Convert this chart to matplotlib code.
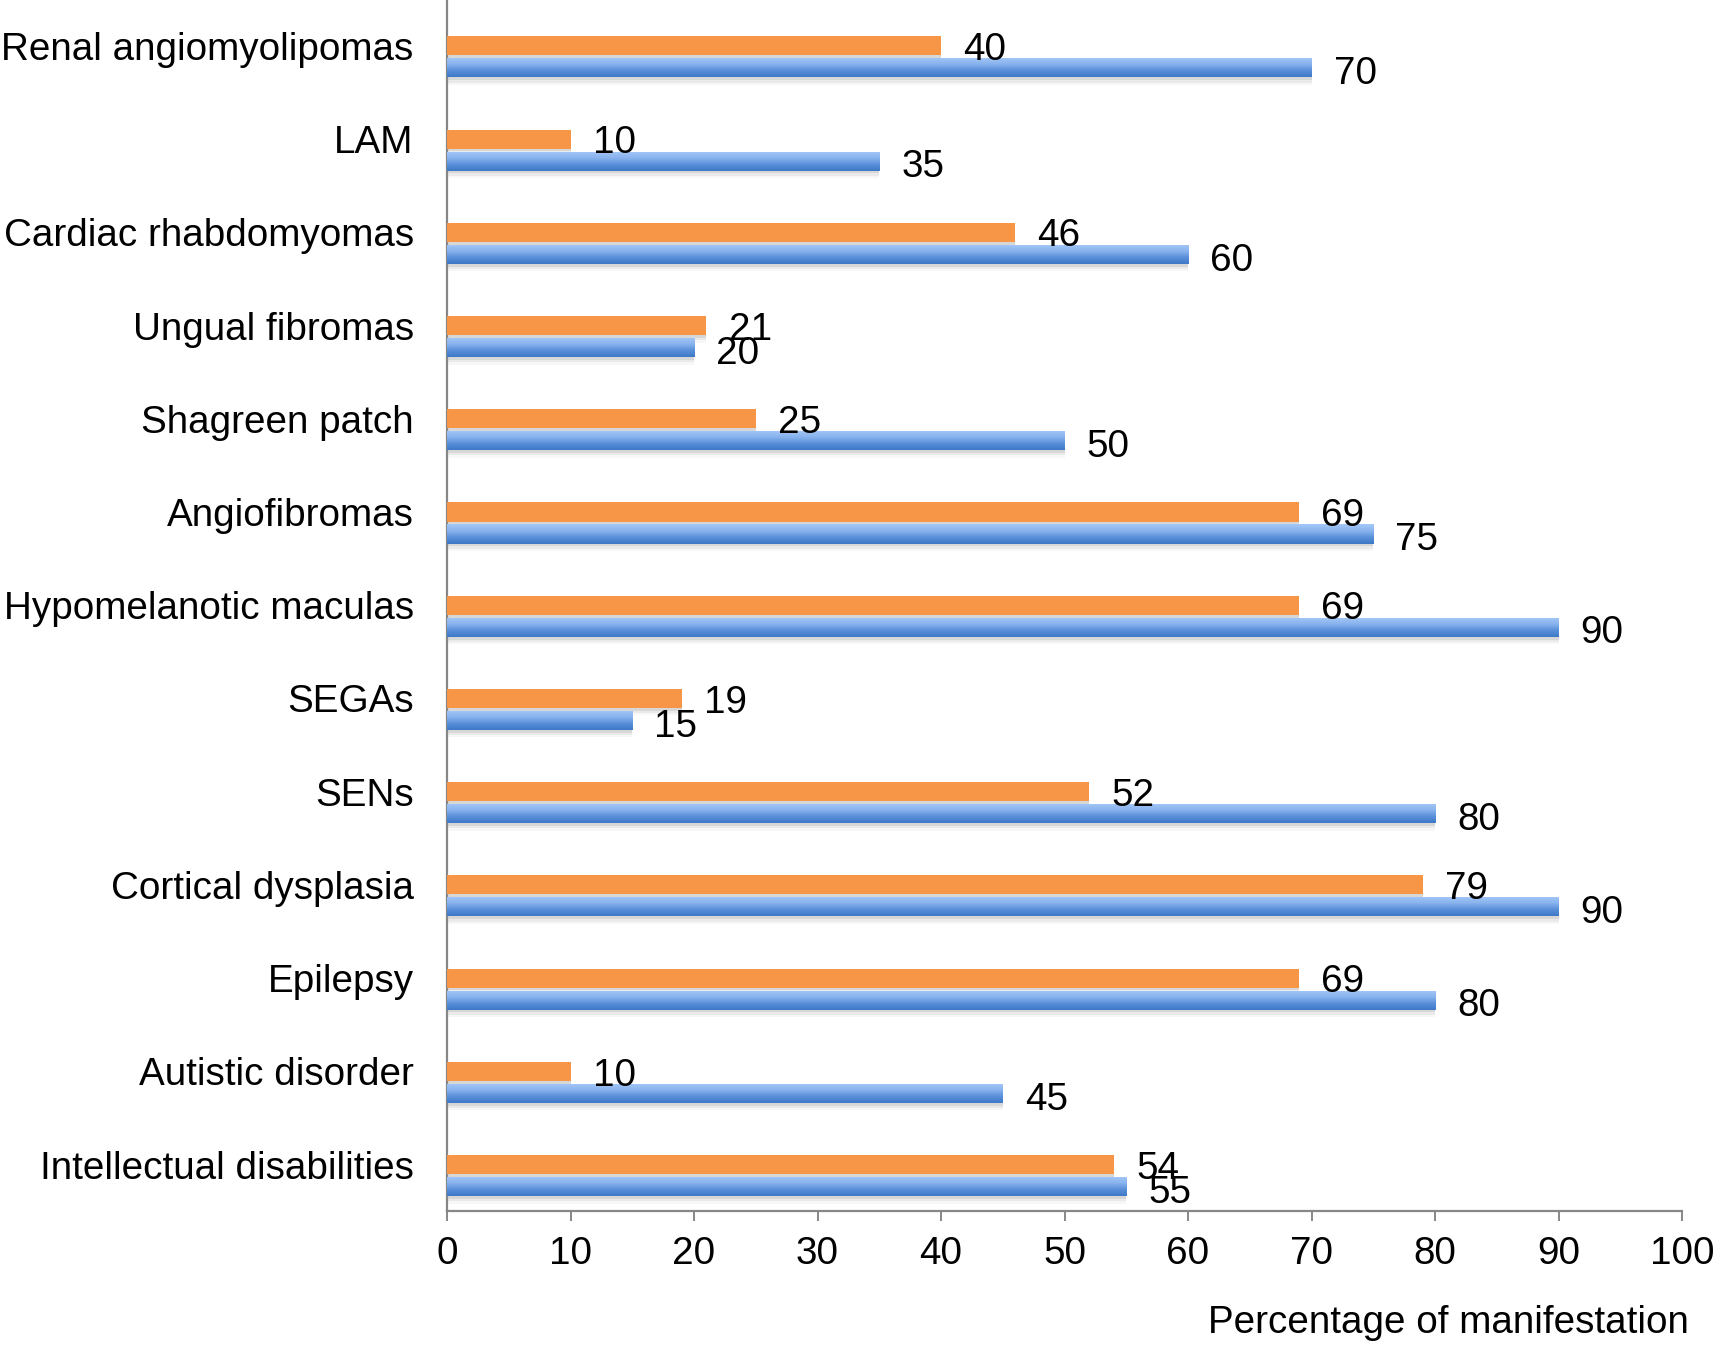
import numpy as np
import matplotlib
matplotlib.use("Agg")
import matplotlib.pyplot as plt
from matplotlib.colors import LinearSegmentedColormap

categories = ["Renal angiomyolipomas", "LAM", "Cardiac rhabdomyomas", "Ungual fibromas",
              "Shagreen patch", "Angiofibromas", "Hypomelanotic maculas", "SEGAs", "SENs",
              "Cortical dysplasia", "Epilepsy", "Autistic disorder", "Intellectual disabilities"]
series_orange = [40, 10, 46, 21, 25, 69, 69, 19, 52, 79, 69, 10, 54]
series_blue = [70, 35, 60, 20, 50, 75, 90, 15, 80, 90, 80, 45, 55]
x_ticks = [0, 10, 20, 30, 40, 50, 60, 70, 80, 90, 100]
x_label = "Percentage of manifestation"

plt.rcParams['font.family'] = ['Liberation Sans', 'DejaVu Sans']
FS = 27.8

fig = plt.figure(figsize=(17.17, 13.46), dpi=100)
ax = fig.add_axes([447/1717, 1 - 1211/1346, (1682-447)/1717, 1211/1346])

pos = np.arange(len(categories))
h = 0.205
off = 0.118
y_or = pos - off
y_bl = pos + off

orange = "#F79646"
blue_cmap = LinearSegmentedColormap.from_list("bl", ["#A4C8F8", "#8AB4EE", "#5A90DA", "#3E78C6"])

# soft shadows
for k, a in zip([0.03, 0.055, 0.08], [0.10, 0.07, 0.04]):
    ax.barh(y_or + k, series_orange, height=h, color="#404040", alpha=a, zorder=1, linewidth=0)
    ax.barh(y_bl + k, series_blue, height=h, color="#404040", alpha=a, zorder=1, linewidth=0)

ax.barh(y_or, series_orange, height=h, color=orange, zorder=3, linewidth=0)
bars_bl = ax.barh(y_bl, series_blue, height=h, color="#6A9BE0", zorder=3, linewidth=0)

grad = np.linspace(0, 1, 64).reshape(-1, 1)
for rect, v, yc in zip(bars_bl, series_blue, y_bl):
    im = ax.imshow(grad, cmap=blue_cmap, aspect='auto', origin='upper',
                   extent=(0, v, yc + h/2, yc - h/2), interpolation='bilinear', zorder=4)
    im.set_clip_path(rect)

for v, yc in zip(series_orange, y_or):
    ax.annotate(f"{v}", (v, yc), xytext=(16, -3), textcoords='offset points',
                ha='left', va='center', fontsize=FS, color='black', zorder=6)
for v, yc in zip(series_blue, y_bl):
    ax.annotate(f"{v}", (v, yc), xytext=(16, -4.5), textcoords='offset points',
                ha='left', va='center', fontsize=FS, color='black', zorder=6)

ax.set_xlim(0, 100)
ax.set_ylim(12.38, -0.61)
ax.set_xticks(x_ticks)
ax.set_xticklabels([str(t) for t in x_ticks], fontsize=FS)
ax.set_yticks(y_or)
ax.set_yticklabels(categories, fontsize=FS)
ax.tick_params(axis='y', length=0, pad=24)
ax.tick_params(axis='x', length=7, width=1.4, color="#878787", pad=11, direction='out')

for s in ['top', 'right']:
    ax.spines[s].set_visible(False)
for s in ['left', 'bottom']:
    ax.spines[s].set_color("#878787")
    ax.spines[s].set_linewidth(1.6)

fig.text(1689/1717, 1 - 1323/1346, x_label, ha='right', va='center', fontsize=FS)

fig.savefig("out.png", dpi=100)
